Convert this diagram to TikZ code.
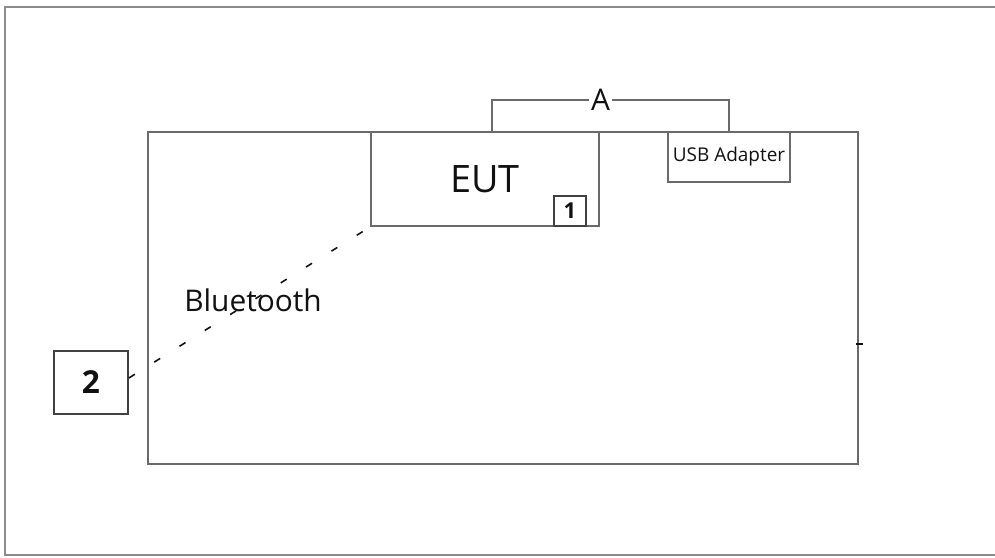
\documentclass[tikz,border=0pt]{standalone}
\usepackage{fontspec}
\setmainfont{Open Sans}
\usepackage{xcolor}
\definecolor{framegray}{HTML}{8C8C8C}
\definecolor{linegray}{HTML}{6A6A6A}
\definecolor{ink}{HTML}{111111}
\usepackage{tikz}
\usetikzlibrary{positioning,calc}
\newlength\px
\setlength\px{0.02cm}
\tikzset{
  box/.style={draw=linegray,line width=1.1pt,inner sep=0pt,text=ink,
    font=\fontsize{10.8}{12}\selectfont},
  tagbox/.style={draw=ink!80,line width=1pt,inner sep=0pt,text=ink,
    font=\bfseries\fontsize{18}{20}\selectfont},
  cable/.style={draw=linegray,line width=1.1pt},
  radio/.style={draw=ink,line width=0.9pt,dash pattern=on 4pt off 13pt},
  lbl/.style={text=ink,inner sep=1pt}}

\begin{document}
\begin{tikzpicture}[x=0.02cm,y=0.02cm]
  \useasboundingbox (0,0) rectangle (995,558);
  % outer frame
  \draw[framegray,line width=1.2pt] (995,551) -- (5,551) -- (5,3) -- (995,3);
  % table
  \node[box,minimum width=710\px,minimum height=332\px] (table) at (503,260) {};
  \node[box,minimum width=228\px,minimum height=94\px,
    font=\fontsize{21.5}{24}\selectfont] (eut) at (485,379) {EUT};
  \node[tagbox,minimum width=32\px,minimum height=30\px,
    font=\bfseries\fontsize{12.5}{14}\selectfont] (one) at (570,347) {1};
  \node[box,minimum width=122\px,minimum height=50\px] (usb) at (729,401) {USB Adapter};
  \node[tagbox,minimum width=74\px,minimum height=63\px] (two) at (91,175.5) {2};
  \node[lbl,font=\fontsize{17}{20}\selectfont] (bt) at (253,258) {Bluetooth};
  % cable A
  \draw[cable] ([xshift=122\px]eut.north west) -- ++(0,31) -| (usb.north)
    node[pos=0.229,fill=white,lbl,font=\fontsize{17}{18}\selectfont] {A};
  % bluetooth link
  \draw[radio] ([yshift=4.5\px]two.east) -- (eut.south west);
  \draw[ink,line width=1pt] ([xshift=-3\px,yshift=-46\px]table.east) -- ++(7,0);
\end{tikzpicture}
\end{document}
